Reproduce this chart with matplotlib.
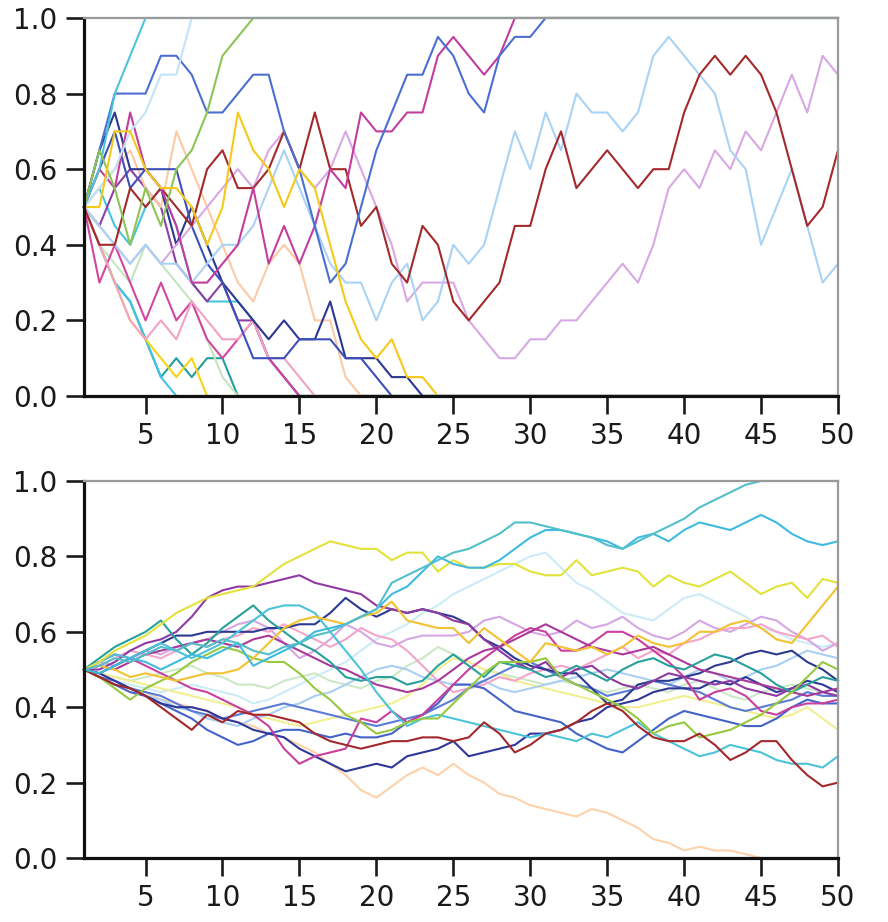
import numpy as np
import matplotlib
matplotlib.use('Agg')
import matplotlib.pyplot as plt

# gen 1..50, x ticks / y ticks
x_ticks = [5, 10, 15, 20, 25, 30, 35, 40, 45, 50]
y_ticks = [0.0, 0.2, 0.4, 0.6, 0.8, 1.0]

# top panel: allele counts out of 20 (small population)
top_teal = [10, 8, 6, 5, 3, 1, 2, 1, 2, 2, 0, 0, 0, 0, 0, 0, 0, 0, 0, 0, 0, 0, 0, 0, 0, 0, 0, 0, 0, 0, 0, 0, 0, 0, 0, 0, 0, 0, 0, 0, 0, 0, 0, 0, 0, 0, 0, 0, 0, 0]
top_cyan_c = [10, 8, 6, 5, 3, 1, 0, 0, 0, 0, 0, 0, 0, 0, 0, 0, 0, 0, 0, 0, 0, 0, 0, 0, 0, 0, 0, 0, 0, 0, 0, 0, 0, 0, 0, 0, 0, 0, 0, 0, 0, 0, 0, 0, 0, 0, 0, 0, 0, 0]
top_cyan_b = [10, 11, 9, 8, 10, 11, 9, 6, 5, 5, 5, 4, 2, 1, 0, 0, 0, 0, 0, 0, 0, 0, 0, 0, 0, 0, 0, 0, 0, 0, 0, 0, 0, 0, 0, 0, 0, 0, 0, 0, 0, 0, 0, 0, 0, 0, 0, 0, 0, 0]
top_yellow_b = [10, 8, 6, 4, 3, 2, 1, 2, 0, 0, 0, 0, 0, 0, 0, 0, 0, 0, 0, 0, 0, 0, 0, 0, 0, 0, 0, 0, 0, 0, 0, 0, 0, 0, 0, 0, 0, 0, 0, 0, 0, 0, 0, 0, 0, 0, 0, 0, 0, 0]
top_lightgreen = [10, 8, 7, 6, 8, 7, 6, 5, 3, 1, 0, 0, 0, 0, 0, 0, 0, 0, 0, 0, 0, 0, 0, 0, 0, 0, 0, 0, 0, 0, 0, 0, 0, 0, 0, 0, 0, 0, 0, 0, 0, 0, 0, 0, 0, 0, 0, 0, 0, 0]
top_purple = [10, 9, 11, 12, 11, 10, 7, 6, 5, 6, 4, 4, 2, 1, 0, 0, 0, 0, 0, 0, 0, 0, 0, 0, 0, 0, 0, 0, 0, 0, 0, 0, 0, 0, 0, 0, 0, 0, 0, 0, 0, 0, 0, 0, 0, 0, 0, 0, 0, 0]
top_magenta_b = [10, 6, 8, 6, 4, 6, 4, 5, 3, 2, 3, 4, 2, 1, 0, 0, 0, 0, 0, 0, 0, 0, 0, 0, 0, 0, 0, 0, 0, 0, 0, 0, 0, 0, 0, 0, 0, 0, 0, 0, 0, 0, 0, 0, 0, 0, 0, 0, 0, 0]
top_pink = [10, 8, 6, 4, 3, 4, 3, 5, 4, 3, 3, 4, 2, 2, 1, 0, 0, 0, 0, 0, 0, 0, 0, 0, 0, 0, 0, 0, 0, 0, 0, 0, 0, 0, 0, 0, 0, 0, 0, 0, 0, 0, 0, 0, 0, 0, 0, 0, 0, 0]
top_peach = [10, 11, 12, 13, 11, 10, 14, 12, 10, 8, 6, 5, 7, 8, 7, 4, 4, 1, 0, 0, 0, 0, 0, 0, 0, 0, 0, 0, 0, 0, 0, 0, 0, 0, 0, 0, 0, 0, 0, 0, 0, 0, 0, 0, 0, 0, 0, 0, 0, 0]
top_navy_a = [10, 13, 15, 12, 12, 11, 8, 10, 8, 6, 5, 4, 3, 4, 3, 3, 5, 2, 2, 2, 1, 1, 0, 0, 0, 0, 0, 0, 0, 0, 0, 0, 0, 0, 0, 0, 0, 0, 0, 0, 0, 0, 0, 0, 0, 0, 0, 0, 0, 0]
top_navy_b = [10, 12, 14, 11, 12, 12, 12, 9, 7, 6, 4, 2, 2, 2, 3, 3, 3, 2, 2, 1, 0, 0, 0, 0, 0, 0, 0, 0, 0, 0, 0, 0, 0, 0, 0, 0, 0, 0, 0, 0, 0, 0, 0, 0, 0, 0, 0, 0, 0, 0]
top_lilac = [10, 9, 8, 7, 8, 7, 8, 9, 10, 11, 12, 11, 13, 14, 12, 11, 12, 14, 12, 10, 8, 5, 6, 6, 6, 4, 3, 2, 2, 3, 3, 4, 4, 5, 6, 7, 6, 8, 11, 12, 11, 13, 12, 14, 13, 15, 17, 15, 18, 17]
top_lightblue = [10, 9, 8, 7, 8, 7, 7, 6, 7, 8, 8, 9, 11, 13, 11, 9, 7, 6, 6, 4, 6, 7, 4, 5, 8, 7, 8, 11, 14, 12, 15, 13, 16, 15, 15, 14, 15, 18, 19, 18, 17, 16, 13, 12, 8, 10, 12, 9, 6, 7]
top_darkred = [10, 8, 8, 11, 10, 11, 10, 9, 12, 13, 11, 11, 12, 14, 12, 15, 12, 12, 9, 10, 7, 6, 9, 8, 5, 4, 5, 6, 9, 9, 12, 14, 11, 12, 13, 12, 11, 12, 12, 15, 17, 18, 17, 18, 17, 15, 12, 9, 10, 13]
top_magenta_a = [10, 12, 11, 15, 12, 11, 9, 6, 6, 7, 8, 11, 7, 9, 7, 9, 12, 11, 15, 14, 14, 15, 15, 18, 19, 18, 17, 18, 20, 20, 20, 20, 20, 20, 20, 20, 20, 20, 20, 20, 20, 20, 20, 20, 20, 20, 20, 20, 20, 20]
top_blue = [10, 13, 16, 16, 16, 18, 18, 17, 15, 15, 16, 17, 17, 14, 12, 9, 6, 7, 10, 13, 15, 17, 17, 19, 18, 16, 15, 18, 19, 19, 20, 20, 20, 20, 20, 20, 20, 20, 20, 20, 20, 20, 20, 20, 20, 20, 20, 20, 20, 20]
top_paleblue = [10, 11, 12, 14, 15, 17, 17, 20, 20, 20, 20, 20, 20, 20, 20, 20, 20, 20, 20, 20, 20, 20, 20, 20, 20, 20, 20, 20, 20, 20, 20, 20, 20, 20, 20, 20, 20, 20, 20, 20, 20, 20, 20, 20, 20, 20, 20, 20, 20, 20]
top_cyan = [10, 12, 16, 18, 20, 20, 20, 20, 20, 20, 20, 20, 20, 20, 20, 20, 20, 20, 20, 20, 20, 20, 20, 20, 20, 20, 20, 20, 20, 20, 20, 20, 20, 20, 20, 20, 20, 20, 20, 20, 20, 20, 20, 20, 20, 20, 20, 20, 20, 20]
top_green = [10, 13, 11, 8, 11, 9, 12, 13, 15, 18, 19, 20, 20, 20, 20, 20, 20, 20, 20, 20, 20, 20, 20, 20, 20, 20, 20, 20, 20, 20, 20, 20, 20, 20, 20, 20, 20, 20, 20, 20, 20, 20, 20, 20, 20, 20, 20, 20, 20, 20]
top_yellow = [10, 10, 14, 14, 12, 11, 11, 10, 8, 10, 15, 13, 12, 10, 12, 11, 8, 5, 3, 2, 3, 1, 1, 0, 0, 0, 0, 0, 0, 0, 0, 0, 0, 0, 0, 0, 0, 0, 0, 0, 0, 0, 0, 0, 0, 0, 0, 0, 0, 0]

top_lines = [
    (top_teal, '#229e9c'), (top_cyan_c, '#41c3e6'), (top_cyan_b, '#45c6dc'),
    (top_yellow_b, '#f3d516'), (top_lightgreen, '#c4e6bf'), (top_purple, '#8d3fa6'),
    (top_magenta_b, '#d2469f'), (top_pink, '#f3a2c6'), (top_peach, '#fdcaa4'),
    (top_navy_a, '#2b3790'), (top_navy_b, '#3d4fb8'), (top_lilac, '#d8a8e4'),
    (top_lightblue, '#a9d3f4'), (top_darkred, '#a3292c'), (top_magenta_a, '#c23d9e'),
    (top_blue, '#4a6fd0'), (top_paleblue, '#c3e3f6'), (top_cyan, '#4cc4d8'),
    (top_green, '#8cc456'), (top_yellow, '#f5c91a'),
]

# bottom panel: allele frequency in percent (large population)
bot_peach = [50, 48, 46, 45, 44, 42, 41, 40, 39, 37, 36, 35, 33, 32, 30, 28, 25, 22, 18, 16, 19, 22, 24, 22, 25, 22, 20, 17, 16, 14, 13, 12, 11, 13, 12, 10, 8, 5, 4, 2, 3, 2, 2, 1, 0, 0, 0, 0, 0, 0]
bot_palecyan = [50, 49, 47, 46, 45, 44, 45, 46, 45, 44, 43, 41, 42, 44, 46, 48, 50, 52, 55, 58, 60, 62, 65, 67, 70, 72, 74, 76, 78, 80, 81, 77, 73, 71, 68, 65, 64, 63, 66, 69, 70, 68, 66, 64, 61, 60, 58, 57, 56, 57]
bot_lightgreen = [50, 49, 48, 47, 48, 49, 50, 51, 49, 48, 46, 46, 45, 47, 48, 49, 47, 46, 45, 47, 48, 51, 53, 56, 54, 52, 50, 49, 48, 47, 46, 47, 46, 45, 44, 45, 46, 45, 44, 46, 47, 45, 43, 42, 44, 45, 46, 45, 44, 43]
bot_lightyellow = [50, 49, 48, 47, 46, 45, 44, 43, 42, 41, 40, 38, 37, 36, 35, 36, 37, 38, 39, 40, 41, 43, 46, 50, 53, 52, 50, 49, 47, 46, 45, 44, 43, 42, 41, 40, 40, 41, 42, 43, 42, 41, 40, 39, 38, 37, 38, 40, 37, 34]
bot_lightblue = [50, 48, 46, 45, 43, 42, 40, 39, 37, 36, 35, 37, 38, 40, 41, 43, 44, 46, 48, 50, 51, 50, 48, 47, 46, 46, 47, 45, 44, 45, 46, 47, 48, 49, 50, 49, 48, 47, 46, 48, 50, 49, 47, 48, 50, 51, 53, 55, 54, 53]
bot_lilac = [50, 52, 51, 53, 55, 54, 56, 57, 58, 60, 62, 63, 61, 57, 53, 55, 58, 62, 60, 57, 56, 58, 59, 59, 59, 60, 63, 64, 62, 60, 59, 60, 63, 61, 62, 64, 61, 59, 58, 60, 63, 61, 60, 62, 64, 63, 60, 58, 55, 57]
bot_pink = [50, 51, 53, 55, 54, 53, 55, 57, 56, 58, 59, 61, 60, 62, 60, 58, 56, 58, 61, 59, 58, 55, 51, 47, 44, 45, 46, 48, 47, 49, 50, 51, 50, 52, 54, 56, 53, 55, 54, 57, 58, 60, 61, 61, 62, 60, 59, 58, 59, 56]
bot_medblue_b = [50, 48, 47, 45, 44, 43, 41, 39, 38, 37, 38, 39, 40, 41, 40, 39, 38, 37, 36, 35, 36, 37, 38, 40, 42, 45, 47, 49, 51, 52, 50, 48, 46, 45, 43, 44, 45, 47, 46, 45, 44, 42, 40, 39, 40, 41, 42, 44, 43, 43]
bot_medblue = [50, 48, 46, 44, 43, 41, 39, 37, 34, 32, 30, 31, 33, 34, 34, 33, 32, 33, 32, 32, 33, 36, 38, 41, 46, 46, 45, 42, 39, 38, 37, 36, 33, 31, 29, 28, 31, 34, 37, 39, 38, 37, 36, 35, 35, 37, 40, 42, 41, 41]
bot_navy_low = [50, 49, 47, 45, 43, 41, 40, 40, 39, 37, 36, 34, 33, 32, 29, 27, 25, 23, 24, 25, 24, 27, 28, 29, 31, 27, 28, 29, 30, 33, 33, 34, 36, 37, 40, 41, 42, 44, 45, 45, 45, 47, 46, 48, 46, 44, 45, 47, 46, 44]
bot_navy_up = [50, 49, 51, 53, 55, 57, 59, 59, 60, 60, 60, 60, 61, 61, 62, 62, 65, 69, 66, 64, 66, 65, 66, 65, 64, 62, 58, 56, 53, 51, 50, 49, 49, 45, 41, 42, 46, 47, 47, 48, 49, 51, 52, 54, 55, 54, 55, 52, 50, 47]
bot_magenta = [50, 52, 54, 53, 51, 49, 47, 45, 44, 42, 40, 38, 35, 29, 25, 27, 28, 29, 37, 36, 39, 36, 38, 42, 46, 50, 53, 56, 59, 61, 60, 55, 55, 57, 60, 60, 58, 55, 52, 48, 42, 44, 45, 43, 39, 38, 40, 41, 41, 42]
bot_magenta_b = [50, 51, 50, 52, 54, 55, 56, 57, 58, 57, 56, 58, 59, 57, 55, 53, 51, 50, 48, 46, 45, 44, 45, 47, 50, 53, 55, 56, 58, 60, 62, 60, 58, 56, 55, 54, 55, 56, 54, 52, 50, 49, 48, 47, 46, 45, 44, 43, 44, 45]
bot_purple = [50, 50, 52, 55, 57, 58, 60, 64, 69, 71, 72, 72, 73, 74, 75, 73, 72, 71, 70, 67, 66, 65, 66, 65, 63, 62, 58, 55, 52, 50, 52, 48, 50, 51, 48, 46, 45, 47, 49, 48, 47, 46, 47, 45, 44, 43, 45, 46, 44, 43]
bot_teal = [50, 53, 56, 58, 60, 63, 58, 54, 57, 61, 64, 67, 63, 60, 57, 55, 52, 48, 47, 48, 48, 46, 47, 51, 54, 51, 48, 52, 51, 50, 48, 49, 51, 49, 47, 50, 52, 53, 51, 50, 52, 54, 53, 51, 49, 46, 44, 46, 48, 47]
bot_cyan_c = [50, 52, 54, 53, 55, 57, 55, 53, 55, 57, 60, 63, 66, 67, 67, 65, 60, 55, 50, 44, 39, 35, 37, 38, 37, 36, 35, 34, 33, 32, 33, 32, 31, 33, 32, 34, 36, 33, 31, 29, 27, 28, 30, 29, 28, 26, 25, 25, 24, 27]
bot_green = [50, 48, 45, 42, 45, 47, 49, 52, 54, 56, 55, 53, 52, 52, 49, 45, 42, 38, 36, 33, 34, 36, 37, 37, 41, 45, 49, 52, 52, 52, 53, 48, 46, 44, 42, 40, 37, 33, 35, 36, 32, 33, 34, 36, 38, 41, 44, 48, 52, 50]
bot_darkred = [50, 48, 46, 45, 43, 40, 37, 34, 38, 36, 39, 38, 38, 37, 36, 33, 31, 30, 29, 30, 31, 31, 32, 32, 31, 32, 36, 33, 28, 30, 33, 34, 36, 39, 41, 39, 35, 32, 31, 31, 33, 30, 26, 28, 31, 31, 26, 22, 19, 20]
bot_gold = [50, 51, 50, 48, 49, 48, 47, 48, 49, 49, 50, 53, 57, 61, 63, 64, 63, 62, 64, 65, 68, 63, 62, 61, 61, 57, 61, 58, 55, 52, 57, 56, 55, 56, 54, 56, 59, 57, 56, 57, 60, 60, 62, 63, 61, 58, 57, 62, 67, 72]
bot_yellow = [50, 52, 55, 57, 59, 62, 65, 67, 69, 70, 71, 72, 75, 78, 80, 82, 84, 83, 82, 82, 79, 81, 81, 76, 79, 77, 77, 78, 78, 76, 75, 75, 79, 75, 76, 77, 76, 72, 75, 73, 72, 74, 76, 73, 70, 72, 73, 69, 74, 73]
bot_cyan_b = [50, 49, 51, 53, 52, 50, 52, 54, 53, 55, 57, 51, 53, 55, 57, 60, 61, 62, 64, 66, 70, 72, 76, 80, 78, 77, 77, 79, 82, 85, 87, 87, 86, 85, 84, 82, 85, 86, 84, 87, 89, 88, 87, 89, 91, 89, 86, 84, 83, 84]
bot_cyan_a = [50, 51, 53, 52, 54, 56, 55, 57, 56, 58, 57, 55, 54, 56, 57, 59, 60, 62, 64, 66, 73, 75, 77, 79, 81, 82, 84, 86, 89, 89, 88, 87, 86, 85, 83, 82, 84, 86, 88, 90, 93, 95, 97, 99, 100, 100, 100, 100, 100, 100]

bottom_lines = [
    (bot_peach, '#fdd2ab'), (bot_palecyan, '#cbecf6'), (bot_lightgreen, '#cce8c6'),
    (bot_lightyellow, '#f1ef92'), (bot_lightblue, '#aacff1'), (bot_lilac, '#d6a6e4'),
    (bot_pink, '#f4a5ca'), (bot_medblue_b, '#5a7bd6'), (bot_medblue, '#4463c8'),
    (bot_navy_low, '#2f3899'), (bot_navy_up, '#2c3a8f'), (bot_magenta, '#c8409f'),
    (bot_magenta_b, '#a9399b'), (bot_purple, '#8f3aa3'), (bot_teal, '#28a09b'),
    (bot_cyan_c, '#4bc3d9'), (bot_green, '#97c940'), (bot_darkred, '#a3282c'),
    (bot_gold, '#f2c232'), (bot_yellow, '#e2e23a'), (bot_cyan_b, '#3fbbe0'),
    (bot_cyan_a, '#52bfcb'),
]

fig = plt.figure(figsize=(8.88, 9.22), dpi=100)
ax_top = fig.add_axes([0.0946, 0.5705, 0.8491, 0.41])
ax_bot = fig.add_axes([0.0946, 0.0694, 0.8491, 0.4089])


def style_axis(ax):
    ax.set_xlim(1, 50)
    ax.set_ylim(0, 1)
    ax.set_xticks(x_ticks)
    ax.set_yticks(y_ticks)
    ax.set_yticklabels(['%.1f' % v for v in y_ticks])
    ax.tick_params(direction='out', length=13, width=1.9, labelsize=20,
                   colors='#1a1a1a', pad=6)
    ax.tick_params(axis='x', pad=6)
    for side in ['left', 'bottom']:
        ax.spines[side].set_color('#111111')
        ax.spines[side].set_linewidth(2.3)
    for side in ['top', 'right']:
        ax.spines[side].set_color('#9a9a9a')
        ax.spines[side].set_linewidth(1.6)


for vals, col in top_lines:
    gens = np.arange(1, len(vals) + 1)
    ax_top.plot(gens, np.array(vals) / 20.0, color=col, lw=1.5, clip_on=False)

for vals, col in bottom_lines:
    gens = np.arange(1, len(vals) + 1)
    ax_bot.plot(gens, np.array(vals) / 100.0, color=col, lw=1.5, clip_on=False)

style_axis(ax_top)
style_axis(ax_bot)

fig.savefig('out.png', dpi=100)
